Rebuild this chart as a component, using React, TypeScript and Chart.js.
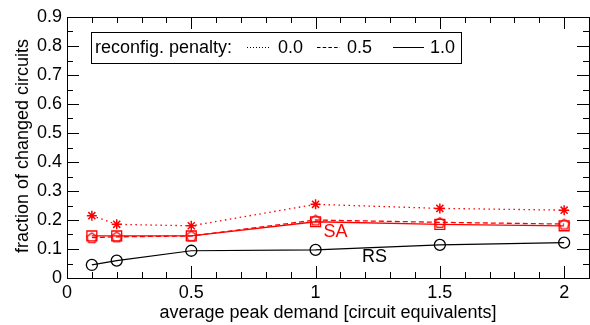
import React, { useEffect, useRef } from "react";
import { Chart, registerables } from "chart.js";

Chart.register(...registerables);

const demand = [0.1, 0.2, 0.5, 1.0, 1.5, 2.0];
const rsValues = [0.045, 0.06, 0.094, 0.097, 0.114, 0.122];
const saPenalty00 = [0.215, 0.185, 0.18, 0.254, 0.24, 0.234];
const saPenalty05 = [0.139, 0.142, 0.145, 0.2, 0.192, 0.186];
const saPenalty10 = [0.145, 0.145, 0.145, 0.194, 0.185, 0.18];
const xTickValues = [0, 0.5, 1, 1.5, 2];
const legendTitle = "reconfig. penalty:";
const legendLabels = ["0.0", "0.5", "1.0"];
const xTitle = "average peak demand [circuit equivalents]";
const yTitle = "fraction of changed circuits";
const annotations = [
  { text: "SA", x: 1.08, y: 0.159, color: "#ff0000" },
  { text: "RS", x: 1.237, y: 0.072, color: "#000000" },
];

const FONT = '"Liberation Sans", Arial, Helvetica, sans-serif';
const RED = "#ff0000";

function makePentagon(color: string) {
  const c = document.createElement("canvas");
  const s = 13;
  c.width = s;
  c.height = s;
  const ctx = c.getContext("2d")!;
  ctx.strokeStyle = color;
  ctx.lineWidth = 1.3;
  const cx = s / 2, cy = s / 2 + 0.5, r = 5.3;
  ctx.beginPath();
  for (let i = 0; i < 5; i++) {
    const a = -Math.PI / 2 + (i * 2 * Math.PI) / 5;
    const px = cx + r * Math.cos(a);
    const py = cy + r * Math.sin(a);
    if (i === 0) ctx.moveTo(px, py);
    else ctx.lineTo(px, py);
  }
  ctx.closePath();
  ctx.stroke();
  return c;
}

const toXY = (ys: number[]) => demand.map((x, i) => ({ x, y: ys[i] }));

export default function App() {
  const ref = useRef<HTMLCanvasElement>(null);
  useEffect(() => {
    document.body.style.margin = "0";
    const pent = makePentagon(RED);
    const framePlugin = {
      id: "frame",
      afterDatasetsDraw(chart: any) {
        const { ctx, chartArea: a, scales } = chart;
        const xs = scales.x, ys = scales.y;
        ctx.save();
        ctx.strokeStyle = "#000";
        ctx.lineWidth = 1;
        ctx.setLineDash([]);
        ctx.strokeRect(Math.round(a.left) + 0.5, Math.round(a.top) + 0.5, Math.round(a.right - a.left), Math.round(a.bottom - a.top));
        ctx.beginPath();
        for (let i = 1; i <= 20; i++) {
          const v = i / 10;
          const px = Math.round(xs.getPixelForValue(v)) + 0.5;
          const len = i % 5 === 0 ? 12 : 6;
          ctx.moveTo(px, a.bottom);
          ctx.lineTo(px, a.bottom - len);
          ctx.moveTo(px, a.top);
          ctx.lineTo(px, a.top + len);
        }
        for (let i = 1; i < 18; i++) {
          const v = i * 0.05;
          const py = Math.round(ys.getPixelForValue(v)) + 0.5;
          const len = i % 2 === 0 ? 12 : 6;
          ctx.moveTo(a.left, py);
          ctx.lineTo(a.left + len, py);
          ctx.moveTo(a.right, py);
          ctx.lineTo(a.right - len, py);
        }
        ctx.stroke();

        // annotations
        ctx.font = `18px ${FONT}`;
        ctx.textAlign = "center";
        ctx.textBaseline = "middle";
        for (const an of annotations) {
          ctx.fillStyle = an.color;
          ctx.fillText(an.text, xs.getPixelForValue(an.x), ys.getPixelForValue(an.y));
        }

        // legend
        const bx = 91, by = 32, bw = 370, bh = 31;
        ctx.fillStyle = "#fff";
        ctx.fillRect(bx, by, bw, bh);
        ctx.strokeStyle = "#000";
        ctx.lineWidth = 1;
        ctx.strokeRect(bx + 0.5, by + 0.5, bw, bh);
        ctx.fillStyle = "#000";
        ctx.textAlign = "left";
        const ty = by + bh / 2 + 1;
        ctx.fillText(legendTitle, 95, ty);
        const items = [
          { x0: 247, x1: 269, dash: [1, 2], lx: 278 },
          { x0: 317, x1: 340, dash: [3.5, 2.2], lx: 347 },
          { x0: 393, x1: 424, dash: [], lx: 430 },
        ];
        items.forEach((it, i) => {
          ctx.beginPath();
          ctx.setLineDash(it.dash);
          ctx.moveTo(it.x0, ty - 1);
          ctx.lineTo(it.x1, ty - 1);
          ctx.stroke();
          ctx.setLineDash([]);
          ctx.fillText(legendLabels[i], it.lx, ty);
        });

        // axis titles
        ctx.textAlign = "center";
        ctx.fillText(xTitle, 328, 313);
        ctx.save();
        ctx.translate(23, 146);
        ctx.rotate(-Math.PI / 2);
        ctx.fillText(yTitle, 0, 0);
        ctx.restore();
        ctx.restore();
      },
    };

    const chart = new Chart(ref.current!, {
      type: "line",
      data: {
        datasets: [
          {
            label: "RS",
            data: toXY(rsValues),
            borderColor: "#000",
            borderWidth: 1.2,
            pointStyle: "circle",
            pointRadius: 5.5,
            pointBorderWidth: 1.3,
            pointBorderColor: "#000",
            pointBackgroundColor: "rgba(0,0,0,0)",
          },
          {
            label: "SA 0.0",
            data: toXY(saPenalty00),
            borderColor: RED,
            borderWidth: 1.3,
            borderDash: [1.5, 3.5],
            pointStyle: "star",
            pointRadius: 5,
            pointBorderWidth: 1.5,
            pointBorderColor: RED,
            pointBackgroundColor: RED,
          },
          {
            label: "SA 0.5",
            data: toXY(saPenalty05),
            borderColor: RED,
            borderWidth: 1.3,
            borderDash: [5, 3],
            pointStyle: pent as any,
            pointRadius: 5,
            pointBorderColor: RED,
          },
          {
            label: "SA 1.0",
            data: toXY(saPenalty10),
            borderColor: RED,
            borderWidth: 1.3,
            pointStyle: "rect",
            pointRadius: 7,
            pointBorderWidth: 1.3,
            pointBorderColor: RED,
            pointBackgroundColor: "rgba(0,0,0,0)",
          },
        ],
      },
      options: {
        animation: false,
        responsive: false,
        maintainAspectRatio: false,
        layout: { autoPadding: false, padding: { top: 17, right: 1, left: 0, bottom: 0 } },
        plugins: { legend: { display: false }, tooltip: { enabled: false } },
        scales: {
          x: {
            type: "linear",
            min: 0,
            max: 2.1,
            grid: { display: false, drawTicks: false },
            border: { display: false },
            afterBuildTicks: (s: any) => {
              s.ticks = xTickValues.map((v) => ({ value: v }));
            },
            afterFit: (s: any) => {
              s.height = 47;
              s.paddingLeft = 0;
              s.paddingRight = 0;
            },
            ticks: {
              autoSkip: false,
              maxRotation: 0,
              padding: 4,
              color: "#000",
              font: { family: FONT, size: 18 },
              callback: (v: any) => String(Number(v)),
            },
          },
          y: {
            type: "linear",
            min: 0,
            max: 0.9,
            grid: { display: false, drawTicks: false },
            border: { display: false },
            afterFit: (s: any) => {
              s.width = 67;
              s.paddingTop = 0;
              s.paddingBottom = 0;
            },
            ticks: {
              stepSize: 0.1,
              padding: 5,
              color: "#000",
              font: { family: FONT, size: 18 },
              callback: (v: any) => (v === 0 ? "0" : Number(v).toFixed(1)),
            },
          },
        },
      },
      plugins: [framePlugin],
    });
    return () => chart.destroy();
  }, []);
  return (
    <div style={{ position: "absolute", left: 0, top: 0, width: 590, height: 325 }}>
      <canvas ref={ref} width={590} height={325} style={{ width: 590, height: 325 }} />
    </div>
  );
}
